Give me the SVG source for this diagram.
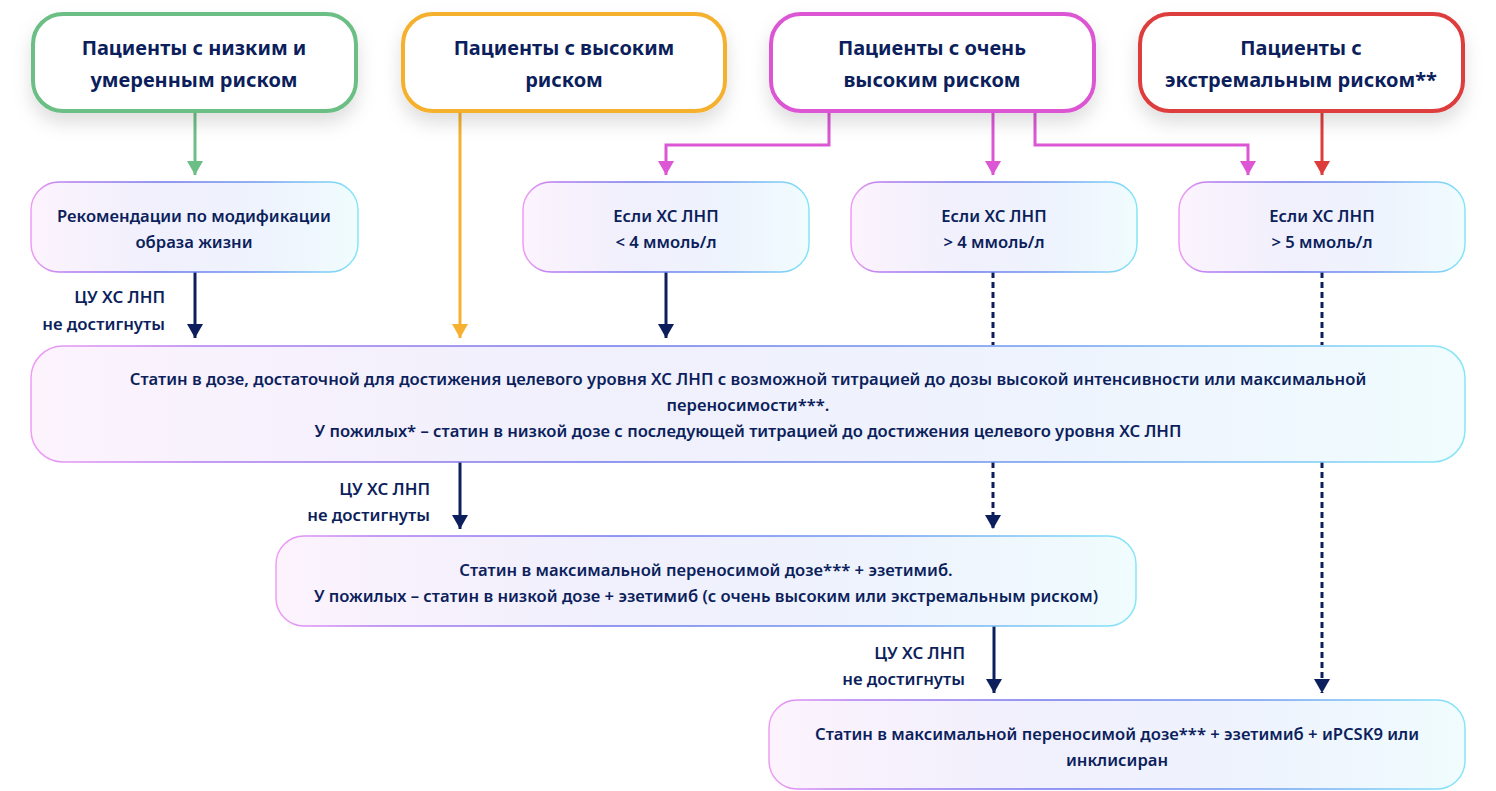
<svg xmlns="http://www.w3.org/2000/svg" width="1496" height="791" viewBox="0 0 1496 791">
<defs>
  <filter id="sh" x="-20%" y="-30%" width="140%" height="180%">
    <feDropShadow dx="0" dy="10" stdDeviation="9" flood-color="#000" flood-opacity="0.13"/>
  </filter>
  <linearGradient id="fillG" x1="0" y1="0" x2="1" y2="0">
    <stop offset="0" stop-color="#fcf3fd"/>
    <stop offset="0.35" stop-color="#f1f0fc"/>
    <stop offset="0.7" stop-color="#eef3fd"/>
    <stop offset="1" stop-color="#f0fcfe"/>
  </linearGradient>
  <linearGradient id="strokeG" x1="0" y1="0" x2="1" y2="0">
    <stop offset="0" stop-color="#ee9df3"/>
    <stop offset="0.12" stop-color="#b27cf0"/>
    <stop offset="0.4" stop-color="#7078ee"/>
    <stop offset="0.7" stop-color="#6f9af0"/>
    <stop offset="1" stop-color="#86e6f8"/>
  </linearGradient>
  <marker id="aNavy" viewBox="0 0 16 14" refX="8" refY="14" markerWidth="16" markerHeight="14" markerUnits="userSpaceOnUse" orient="0">
    <path d="M0 0 L16 0 L8 14 Z" fill="#0c1f5c"/>
  </marker>
  <marker id="aGreen" viewBox="0 0 16 14" refX="8" refY="14" markerWidth="16" markerHeight="14" markerUnits="userSpaceOnUse" orient="0">
    <path d="M0 0 L16 0 L8 14 Z" fill="#6cbf84"/>
  </marker>
  <marker id="aOrange" viewBox="0 0 16 14" refX="8" refY="14" markerWidth="16" markerHeight="14" markerUnits="userSpaceOnUse" orient="0">
    <path d="M0 0 L16 0 L8 14 Z" fill="#f5b12f"/>
  </marker>
  <marker id="aMag" viewBox="0 0 16 14" refX="8" refY="14" markerWidth="16" markerHeight="14" markerUnits="userSpaceOnUse" orient="0">
    <path d="M0 0 L16 0 L8 14 Z" fill="#dc57d4"/>
  </marker>
  <marker id="aRed" viewBox="0 0 16 14" refX="8" refY="14" markerWidth="16" markerHeight="14" markerUnits="userSpaceOnUse" orient="0">
    <path d="M0 0 L16 0 L8 14 Z" fill="#de3c3c"/>
  </marker>
</defs>
<style>
  .top { fill: #ffffff; stroke-width: 4; filter: url(#sh); }
  .lt { fill: url(#fillG); stroke: url(#strokeG); stroke-width: 1.5; }
  .tt { font-family: "Noto Sans", "Open Sans", sans-serif; font-weight: 700; font-size: 20px; fill: #0c1f5c; text-anchor: middle; }
  .bt { font-family: "Noto Sans", "Open Sans", sans-serif; font-weight: 600; font-size: 16.6px; fill: #0c1f5c; text-anchor: middle; }
  .lb { font-family: "Noto Sans", "Open Sans", sans-serif; font-weight: 600; font-size: 16.8px; fill: #0c1f5c; text-anchor: end; }
  .c { fill: none; stroke-width: 3; }
  .navy { stroke: #0c1f5c; }
  .dash { stroke: #0c1f5c; stroke-dasharray: 6 4; }
</style>

<g id="connectors">
  <path class="c" stroke="#6cbf84" d="M195 113 V175" marker-end="url(#aGreen)"/>
  <path class="c" stroke="#f5b12f" d="M460 113 V338" marker-end="url(#aOrange)"/>
  <path class="c" stroke="#dc57d4" d="M829 113 V145 H666 V175" marker-end="url(#aMag)"/>
  <path class="c" stroke="#dc57d4" d="M993 113 V175" marker-end="url(#aMag)"/>
  <path class="c" stroke="#dc57d4" d="M1035 113 V145 H1248 V175" marker-end="url(#aMag)"/>
  <path class="c" stroke="#de3c3c" d="M1322 113 V175" marker-end="url(#aRed)"/>
  <path class="c navy" d="M195 272 V338" marker-end="url(#aNavy)"/>
  <path class="c navy" d="M666 272 V338" marker-end="url(#aNavy)"/>
  <path class="c dash" d="M993 272 V345"/>
  <path class="c dash" d="M1322 272 V345"/>
  <path class="c navy" d="M460 462 V529" marker-end="url(#aNavy)"/>
  <path class="c dash" d="M993 462 V529" marker-end="url(#aNavy)"/>
  <path class="c dash" d="M1322 462 V693" marker-end="url(#aNavy)"/>
  <path class="c navy" d="M994 626 V693" marker-end="url(#aNavy)"/>
  <text class="lb" x="165" y="303">ЦУ ХС ЛНП</text>
  <text class="lb" x="165" y="330">не достигнуты</text>
  <text class="lb" x="430" y="495">ЦУ ХС ЛНП</text>
  <text class="lb" x="430" y="521">не достигнуты</text>
  <text class="lb" x="965" y="659">ЦУ ХС ЛНП</text>
  <text class="lb" x="965" y="685">не достигнуты</text>
</g>

<g id="risk-low">
  <rect class="top" x="33" y="14" width="323" height="97" rx="30" stroke="#6cbf84"/>
  <text class="tt" x="194" y="55">Пациенты с низким и</text>
  <text class="tt" x="194" y="87">умеренным риском</text>
</g>
<g id="risk-high">
  <rect class="top" x="403" y="14" width="322" height="97" rx="30" stroke="#f5b12f"/>
  <text class="tt" x="564" y="55">Пациенты с высоким</text>
  <text class="tt" x="564" y="87">риском</text>
</g>
<g id="risk-very-high">
  <rect class="top" x="771" y="14" width="323" height="97" rx="30" stroke="#dc57d4"/>
  <text class="tt" x="932" y="55">Пациенты с очень</text>
  <text class="tt" x="932" y="87">высоким риском</text>
</g>
<g id="risk-extreme">
  <rect class="top" x="1140" y="14" width="323" height="97" rx="30" stroke="#de3c3c"/>
  <text class="tt" x="1301" y="55">Пациенты с</text>
  <text class="tt" x="1301" y="87">экстремальным риском**</text>
</g>

<g id="lifestyle">
  <rect class="lt" x="31" y="182" width="327" height="90" rx="28"/>
  <text class="bt" x="194" y="222">Рекомендации по модификации</text>
  <text class="bt" x="194" y="248">образа жизни</text>
</g>
<g id="ldl-lt4">
  <rect class="lt" x="523" y="182" width="286" height="90" rx="28"/>
  <text class="bt" x="666" y="222">Если ХС ЛНП</text>
  <text class="bt" x="666" y="248">&lt; 4 ммоль/л</text>
</g>
<g id="ldl-gt4">
  <rect class="lt" x="851" y="182" width="286" height="90" rx="28"/>
  <text class="bt" x="994" y="222">Если ХС ЛНП</text>
  <text class="bt" x="994" y="248">&gt; 4 ммоль/л</text>
</g>
<g id="ldl-gt5">
  <rect class="lt" x="1179" y="182" width="286" height="90" rx="28"/>
  <text class="bt" x="1322" y="222">Если ХС ЛНП</text>
  <text class="bt" x="1322" y="248">&gt; 5 ммоль/л</text>
</g>

<g id="statin">
  <rect class="lt" x="31" y="346" width="1434" height="116" rx="32"/>
  <text class="bt" x="748" y="385">Статин в дозе, достаточной для достижения целевого уровня ХС ЛНП с возможной титрацией до дозы высокой интенсивности или максимальной</text>
  <text class="bt" x="748" y="411">переносимости***.</text>
  <text class="bt" x="748" y="437">У пожилых* – статин в низкой дозе с последующей титрацией до достижения целевого уровня ХС ЛНП</text>
</g>
<g id="statin-ezetimibe">
  <rect class="lt" x="276" y="536" width="860" height="90" rx="28"/>
  <text class="bt" x="706" y="576">Статин в максимальной переносимой дозе*** + эзетимиб.</text>
  <text class="bt" x="706" y="602">У пожилых – статин в низкой дозе + эзетимиб (с очень высоким или экстремальным риском)</text>
</g>
<g id="statin-ezetimibe-pcsk9">
  <rect class="lt" x="769" y="700" width="696" height="89" rx="28"/>
  <text class="bt" x="1117" y="740">Статин в максимальной переносимой дозе*** + эзетимиб + иPCSK9 или</text>
  <text class="bt" x="1117" y="766">инклисиран</text>
</g>
</svg>
